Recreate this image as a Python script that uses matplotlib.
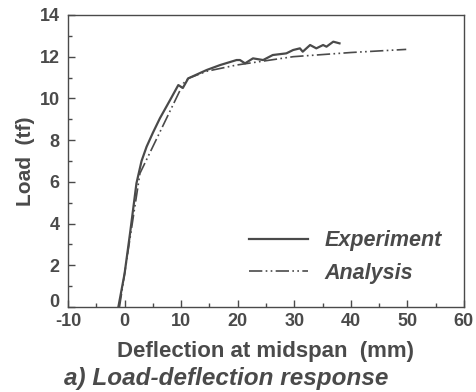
import matplotlib
matplotlib.use("Agg")
import matplotlib.pyplot as plt
import matplotlib.transforms as mtransforms
from matplotlib.ticker import MultipleLocator, FuncFormatter

plt.rcParams["axes.unicode_minus"] = False

# experiment curve (deflection mm, load tf)
exp_x = [-1.1, 0.0, 1.0, 2.1, 3.0, 3.9, 5.0, 6.25, 8.0, 9.5, 10.3, 11.25,
         14.5, 16.9, 19.8, 20.4, 21.3, 22.7, 24.5, 26.2, 28.6, 29.8, 31.0,
         31.5, 32.8, 33.9, 35.1, 35.7, 36.9, 38.0]
exp_y = [0.0, 1.6, 3.6, 5.93, 7.0, 7.69, 8.35, 9.05, 9.9, 10.64, 10.5, 10.96,
         11.36, 11.6, 11.84, 11.84, 11.68, 11.92, 11.84, 12.08, 12.16, 12.32,
         12.4, 12.24, 12.56, 12.4, 12.56, 12.48, 12.72, 12.64]

# analysis curve
ana_x = [-0.9, 2.72, 10.4, 11.25, 14.5, 19.8, 29.8, 40.0, 49.8]
ana_y = [0.0, 6.41, 10.72, 10.96, 11.3, 11.6, 12.0, 12.2, 12.35]

ink = "#4a4a4a"
font = "Liberation Sans"

fig = plt.figure(figsize=(4.77, 3.92), dpi=100)
ax = fig.add_axes([0.1426, 0.2168, 0.830, 0.745])

ax.plot(exp_x, exp_y, color=ink, lw=1.6, label="Experiment")
ax.plot(ana_x, ana_y, color=ink, lw=1.2, dashes=(8, 2, 1, 2, 1, 2), label="Analysis")

ax.set_xlim(-10, 60)
ax.set_ylim(0, 14)
ax.xaxis.set_major_locator(MultipleLocator(10))
ax.xaxis.set_minor_locator(MultipleLocator(5))
ax.yaxis.set_major_locator(MultipleLocator(2))
ax.yaxis.set_minor_locator(MultipleLocator(1))
# y "0" is drawn by hand below, nudged up so it clears the x "-10"
ax.yaxis.set_major_formatter(FuncFormatter(lambda v, p: "" if v == 0 else f"{v:g}"))
ax.tick_params(which="both", direction="in", color=ink, width=1)
ax.tick_params(which="major", length=5, labelsize=13, labelcolor=ink)
ax.tick_params(axis="y", which="major", pad=6)
ax.tick_params(axis="x", which="major", pad=4)
ax.tick_params(which="minor", length=3)
for lab in ax.get_xticklabels() + ax.get_yticklabels():
    lab.set_fontweight("bold")
    lab.set_family(font)
shift = ax.get_yaxis_transform() + mtransforms.ScaledTranslation(-6 / 72, 3 / 72, fig.dpi_scale_trans)
ax.text(0, 0, "0", transform=shift, ha="right", va="center", fontsize=13,
        fontweight="bold", color=ink, family=font)
for sp in ax.spines.values():
    sp.set_color(ink)
    sp.set_linewidth(1.0)

ax.set_xlabel("Deflection at midspan  (mm)", fontsize=16, fontweight="bold",
              color=ink, family=font, labelpad=8)
ax.set_ylabel("Load  (tf)", fontsize=15, fontweight="bold",
              color=ink, family=font, labelpad=3)
fig.text(0.474, 0.018, "a) Load-deflection response", ha="center", fontsize=17.5,
         fontweight="bold", style="italic", color=ink, family=font)

leg = ax.legend(loc="upper left", bbox_to_anchor=(0.43, 0.30), frameon=False,
                borderpad=0, handlelength=2.75, handletextpad=0.75, labelspacing=0.55,
                prop={"family": font, "weight": "bold", "style": "italic", "size": 15.5})
for t in leg.get_texts():
    t.set_color(ink)

fig.savefig("out.png", dpi=100)
